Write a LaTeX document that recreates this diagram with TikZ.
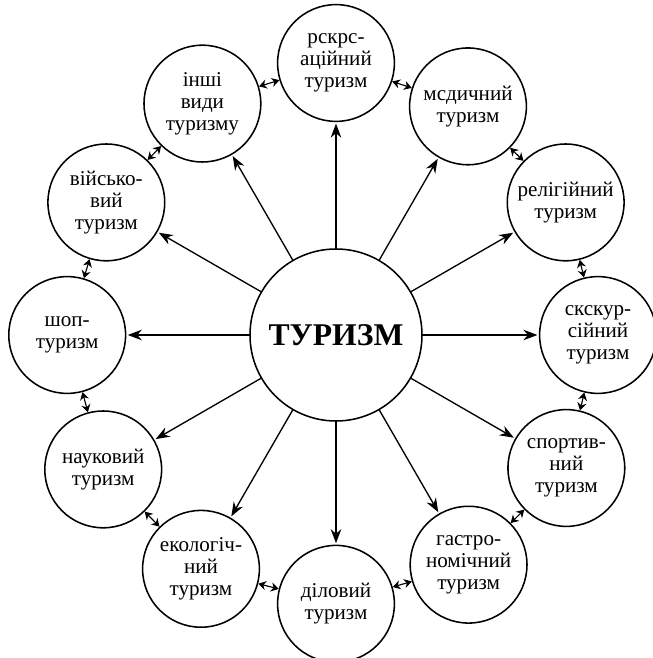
\documentclass[tikz,border=0pt]{standalone}
\usepackage{fontspec}
\setmainfont{Liberation Serif}
\usetikzlibrary{arrows.meta}

\begin{document}
\begin{tikzpicture}[shorten >=1pt,
  hub_style/.style={circle,draw=black,line width=1.1pt,minimum size=4.3cm,inner sep=0pt,font=\fontsize{22.5}{26}\selectfont\bfseries},
  node_style/.style={circle,draw=black,line width=1.1pt,minimum size=2.92cm,inner sep=0pt,align=center,font=\fontsize{15}{15.5}\selectfont},
  arrow_style/.style={draw=black, line width=0.95pt,-{Stealth[length=10pt,width=7.5pt]}},
  link_style/.style={draw=black, line width=0.8pt,{Stealth[length=5.5pt,width=6.5pt]}-{Stealth[length=5.5pt,width=6.5pt]},shorten <=0pt,shorten >=0pt}]
  \useasboundingbox (-8.4,-8.075) rectangle (7.9,8.375);

  \node (t0) [hub_style] at (0,0) {ТУРИЗМ};
  \node (t1) [node_style] at (90:6.8) {рскрс-\\ацiйний\\туризм};
  \node (t2) [node_style] at (60:6.6) {мсдичний\\туризм};
  \node (t3) [node_style] at (30:6.63) {релігійний\\туризм};
  \node (t4) [node_style] at (0:6.55) {скскур-\\сійний\\туризм};
  \node (t5) [node_style] at (-30:6.65) {спортив-\\ний\\туризм};
  \node (t6) [node_style] at (-60:6.63) {гастро-\\номічний\\туризм};
  \node (t7) [node_style] at (-90:6.72) {діловий\\туризм};
  \node (t8) [node_style] at (-120:6.75) {екологіч-\\ний\\туризм};
  \node (t9) [node_style] at (-150:6.72) {науковий\\туризм};
  \node (t10) [node_style] at (180:6.72) {шоп-\\туризм};
  \node (t11) [node_style] at (150:6.63) {військо-\\вий\\туризм};
  \node (t12) [node_style] at (120:6.68) {інші\\види\\туризму};
  %
  \draw [arrow_style] (t0) -- (t1);
  \draw [arrow_style] (t0) -- (t2);
  \draw [arrow_style] (t0) -- (t3);
  \draw [arrow_style] (t0) -- (t4);
  \draw [arrow_style] (t0) -- (t5);
  \draw [arrow_style] (t0) -- (t6);
  \draw [arrow_style] (t0) -- (t7);
  \draw [arrow_style] (t0) -- (t8);
  \draw [arrow_style] (t0) -- (t9);
  \draw [arrow_style] (t0) -- (t10);
  \draw [arrow_style] (t0) -- (t11);
  \draw [arrow_style] (t0) -- (t12);
  %
  \draw [link_style] (t1) -- (t2);
  \draw [link_style] (t2) -- (t3);
  \draw [link_style] (t3) -- (t4);
  \draw [link_style] (t4) -- (t5);
  \draw [link_style] (t5) -- (t6);
  \draw [link_style] (t6) -- (t7);
  \draw [link_style] (t7) -- (t8);
  \draw [link_style] (t8) -- (t9);
  \draw [link_style] (t9) -- (t10);
  \draw [link_style] (t10) -- (t11);
  \draw [link_style] (t11) -- (t12);
  \draw [link_style] (t12) -- (t1);
\end{tikzpicture}
\end{document}
